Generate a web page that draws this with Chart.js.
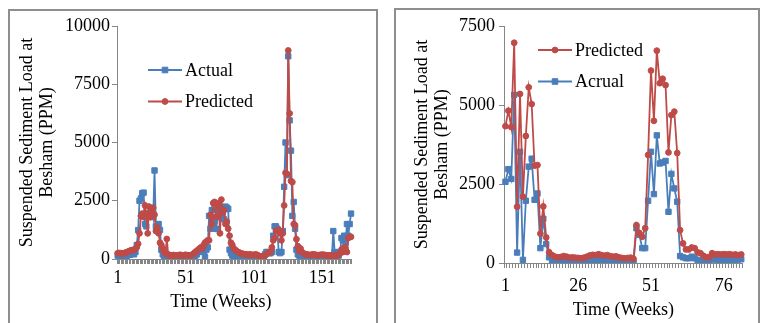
<!DOCTYPE html>
<html lang="en">
<head>
  <meta charset="UTF-8" />
  <title>Suspended Sediment Load at Besham</title>
  <script src="https://cdn.jsdelivr.net/npm/chart.js@4.4.0/dist/chart.umd.min.js"></script>
  <style>
    body {
      margin: 0;
      background: #fff;
      width: 761px;
      height: 323px;
      overflow: hidden;
      position: relative;
    }
    .panel {
      position: absolute;
      border: 2px solid #8e8e8e;
      border-bottom: none;
      background: #fff;
    }
    #leftPanel { left: 8px; top: 9px; }
    #rightPanel { left: 394px; top: 8px; }
    canvas { display: block; }
  </style>
</head>
<body>
  <div class="panel" id="leftPanel"><canvas id="leftChart" width="366" height="312"></canvas></div>
  <div class="panel" id="rightPanel"><canvas id="rightChart" width="362" height="313"></canvas></div>

  <script>
    // left panel: weekly series (172 weeks)
    const leftActual = [
      150, 120, 130, 100, 80, 100, 120, 150, 200, 180,
      220, 250, 200, 300, 600,
      1240, 2500, 2600, 2820, 2850, 1500, 1400, 1800, 1900, 2000, 2100, 1800, 3800, 1400, 1300, 1500, 1250, 400, 200, 100, 80, 60, 50, 60,
      80, 100, 90, 80, 70, 60, 80, 100, 90, 80, 100, 120, 100, 80, 60, 50, 80, 100,
      150, 200, 300, 350, 400, 350, 300, 100, 400, 500,
      1850, 1300, 2100, 1700, 1600, 1300, 1800, 2100, 1900, 2200, 2000, 1700, 2250, 2200, 2150,
      400, 250, 150, 120, 100,
      120, 100, 110, 100, 90, 100, 120, 100, 90, 100, 110, 100, 90,
      100, 120, 100, 80, 60, 50, 80, 100, 200, 300, 300, 250,
      250, 300, 1000, 1400, 1400, 1300, 300, 250, 300, 1200,
      3100, 5000, 3600, 8700, 5950, 4650, 1850, 2450, 1300, 400, 200, 150,
      100, 80, 90, 100, 80, 70, 60, 80, 100, 90, 80, 70, 60, 70, 80, 90, 100, 80, 60, 50, 60, 70, 80, 90,
      1200, 300, 200, 150, 150, 300, 900, 800, 1000, 700, 1500, 1000, 1500, 1950
    ];
    const leftPredicted = [
      250, 260, 250, 240, 230, 250, 280, 300, 330, 350,
      380, 360, 400, 450, 500,
      650, 1100, 1850, 1950, 1800, 2300, 1950, 1100, 2250, 1800, 2000, 2200, 1900, 1200, 1350, 1100, 700, 600, 450, 300, 250, 860, 200, 150,
      150, 160, 170, 160, 150, 160, 170, 180, 160, 150, 170, 180, 160, 150, 160, 170, 200, 250,
      300, 350, 400, 450, 500, 450, 600, 700, 750, 800,
      800, 1900, 1500, 2400, 2450, 1800, 2350, 2400, 1100, 2550, 2000, 2100, 1500, 1600, 1300,
      1000, 700, 600, 450, 400,
      350, 300, 280, 250, 230, 220, 200, 200, 190, 180, 200, 180, 170,
      180, 200, 180, 150, 120, 100, 100, 120, 150, 200, 250, 300,
      300, 500, 800, 900, 1200, 1250, 1250, 1100, 800, 1100,
      2300, 3700, 3650, 8950, 6250, 3350, 3300, 1500, 1450, 850, 550, 350,
      450, 300, 250, 220, 200, 190, 180, 170, 180, 200, 190, 180, 170, 160, 170, 180, 190, 180, 170, 160, 150, 160, 150, 150,
      150, 150, 150, 150, 200, 250, 400, 300, 500, 450, 300, 900, 950, 950
    ];
    const leftTickLabels = ["1", "51", "101", "151"];

    // right panel: 82 weeks
    const rightPredicted = [
      4330, 4820, 4300, 6970, 1780, 5350, 2100, 4020, 5560, 5030,
      3080, 3100, 930, 1790, 810, 340, 250, 200, 180, 190,
      220, 200, 170, 180, 170, 160, 150, 170, 200, 240,
      260, 250, 280, 250, 230, 250, 220, 200, 210, 180,
      160, 150, 160, 170, 130, 1200, 950, 830, 1100, 3420,
      6090, 4500, 6720, 5690, 5830, 5630, 3500, 4680, 4790, 3480,
      1040, 620, 430, 430, 490, 470, 340, 310, 230, 180,
      190, 310, 270, 280, 270, 280, 270, 280, 260, 270,
      250, 270
    ];
    const rightActual = [
      2570, 2970, 2660, 5320, 330, 3520, 100, 1970, 3050, 3300,
      2000, 2200, 470, 1400, 600, 180, 80, 50, 40, 60,
      50, 30, 20, 30, 40, 30, 20, 30, 60, 80,
      100, 90, 110, 90, 80, 60, 50, 40, 50, 30,
      20, 10, 20, 30, 10, 1100, 890, 470, 470, 1970,
      3520, 2180, 4040, 3150, 3180, 3230, 1620, 2820, 2360, 1940,
      220, 180, 150, 150, 200, 150, 100, 60, 50, 40,
      50, 120, 110, 100, 110, 100, 110, 100, 110, 100,
      110, 120
    ];
    const rightTickLabels = ["1", "26", "51", "76"];

    const BLUE = "#4a7ebb";
    const RED = "#be4b48";
    const AXIS = "#868686";
    const FONT = "'Liberation Serif', 'Times New Roman', serif";

    // legend drawn inside the plot, like the Excel original
    const insideLegend = {
      id: "insideLegend",
      afterDatasetsDraw(chart, args, opts) {
        const ctx = chart.ctx;
        opts.items.forEach((idx, k) => {
          const ds = chart.data.datasets[idx];
          const y = opts.y + k * opts.gap;
          const mx = opts.x + opts.len / 2;
          ctx.save();
          ctx.strokeStyle = ds.borderColor;
          ctx.lineWidth = ds.borderWidth;
          ctx.beginPath();
          ctx.moveTo(opts.x, y);
          ctx.lineTo(opts.x + opts.len, y);
          ctx.stroke();
          ctx.fillStyle = ds.pointBackgroundColor;
          ctx.lineWidth = 1;
          ctx.beginPath();
          if (ds.pointStyle === "rect") {
            ctx.rect(mx - 2.8, y - 2.8, 5.6, 5.6);
          } else {
            ctx.arc(mx, y, 2.9, 0, Math.PI * 2);
          }
          ctx.fill();
          ctx.stroke();
          ctx.fillStyle = "#000";
          ctx.font = "18px " + FONT;
          ctx.textBaseline = "middle";
          ctx.fillText(ds.label, opts.x + opts.len + 3, y + 1);
          ctx.restore();
        });
      }
    };

    function series(label, data, color, style, order) {
      return {
        label: label,
        data: data,
        borderColor: color,
        backgroundColor: color,
        pointBackgroundColor: color,
        pointBorderColor: color,
        borderWidth: 1.8,
        pointStyle: style,
        pointRadius: style === "rect" ? 3.8 : 2.9,
        pointBorderWidth: 1,
        tension: 0,
        fill: false,
        order: order
      };
    }

    function makeChart(id, weeks, tickLabels, datasets, yMax, box) {
      return new Chart(document.getElementById(id), {
        type: "line",
        data: { labels: weeks, datasets: datasets },
        plugins: [insideLegend],
        options: {
          responsive: false,
          animation: false,
          layout: { padding: { left: 0, top: box.top, right: box.right, bottom: 0 } },
          plugins: {
            legend: { display: false },
            tooltip: { enabled: false },
            insideLegend: box.legend
          },
          scales: {
            x: {
              type: "category",
              offset: true,
              border: { color: AXIS, width: 1 },
              grid: { display: true, offset: true, drawOnChartArea: false, tickLength: 5, color: AXIS },
              ticks: {
                autoSkip: false,
                maxRotation: 0,
                minRotation: 0,
                padding: box.tickPad,
                color: "#000",
                font: { family: FONT, size: 18 },
                callback: function (value) {
                  const lab = this.getLabelForValue(value);
                  return tickLabels.includes(lab) ? lab : "";
                }
              },
              title: {
                display: true,
                text: box.xTitle,
                color: "#000",
                font: { family: FONT, size: 18, lineHeight: 20 / 18 },
                padding: { top: 0, bottom: box.xTitlePad }
              },
              afterFit: s => { s.height = box.xHeight; }
            },
            y: {
              min: 0,
              max: yMax,
              border: { color: AXIS, width: 1 },
              grid: { drawOnChartArea: false, tickLength: 5, color: AXIS },
              ticks: {
                stepSize: 2500,
                padding: box.yPad,
                color: "#000",
                font: { family: FONT, size: 18 },
                callback: v => String(v)
              },
              title: {
                display: true,
                text: ["Suspended Sediment Load at", "Besham (PPM)"],
                color: "#000",
                font: { family: FONT, size: 18, lineHeight: 20 / 18 },
                padding: { top: box.yTitlePad, bottom: 0 }
              },
              afterFit: s => { s.width = box.yWidth; }
            }
          }
        }
      });
    }

    makeChart("leftChart",
      leftActual.map((_, i) => String(i + 1)),
      leftTickLabels,
      [series("Actual", leftActual, BLUE, "rect", 1),
       series("Predicted", leftPredicted, RED, "circle", 0)],
      10000,
      { top: 15, right: 24.3, yWidth: 107, xHeight: 64, tickPad: 3, xTitlePad: 11, yPad: 2, yTitlePad: 7,
        xTitle: "Time (Weeks)      ",
        legend: { items: [0, 1], x: 138, y: 59, gap: 31.5, len: 34 } });

    makeChart("rightChart",
      rightPredicted.map((_, i) => String(i + 1)),
      rightTickLabels,
      [series("Predicted", rightPredicted, RED, "circle", 0),
       series("Acrual", rightActual, BLUE, "rect", 1)],
      7500,
      { top: 16, right: 15.3, yWidth: 108, xHeight: 60, tickPad: 7, xTitlePad: 3, yPad: 4, yTitlePad: 16,
        xTitle: "Time (Weeks)",
        legend: { items: [0, 1], x: 142, y: 40, gap: 31.5, len: 34 } });
  </script>
</body>
</html>
